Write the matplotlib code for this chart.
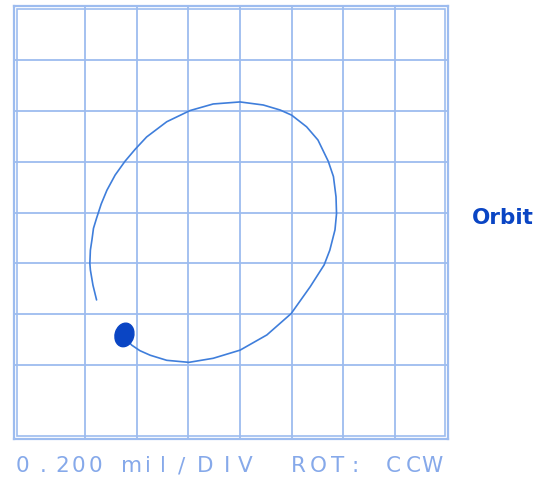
import matplotlib.pyplot as plt
from matplotlib.patches import Ellipse, Rectangle

# orbit trace, in screen divisions (0.200 mil per division)
orbit_x = [-2.78, -2.85, -2.90, -2.91, -2.90, -2.87, -2.84, -2.78, -2.69, -2.58,
           -2.42, -2.23, -2.03, -1.81, -1.42, -0.97, -0.52, 0.00, 0.45, 0.78,
           1.00, 1.29, 1.51, 1.71, 1.81, 1.86, 1.87, 1.84, 1.74, 1.63,
           1.36, 0.99, 0.52, 0.00, -0.52, -0.99, -1.42, -1.74, -1.94, -2.10, -2.18]
orbit_y = [-1.72, -1.43, -1.13, -1.00, -0.74, -0.54, -0.31, -0.11, 0.17, 0.44,
           0.74, 1.01, 1.25, 1.49, 1.79, 2.01, 2.14, 2.18, 2.12, 2.02,
           1.92, 1.69, 1.43, 1.01, 0.71, 0.31, -0.02, -0.34, -0.74, -1.03,
           -1.46, -1.99, -2.41, -2.71, -2.87, -2.95, -2.91, -2.81, -2.72, -2.61, -2.52]
keyphasor = (-2.24, -2.41)

grid_lines = [-3, -2, -1, 0, 1, 2, 3]
scale_text = "0.200 mil/DIV  ROT: CCW"
label = "Orbit"

grid_color = "#9dbcef"
trace_color = "#3f7edb"
dot_color = "#0a45c4"

fig = plt.figure(figsize=(5.39, 4.78), dpi=100)
ax = fig.add_axes([14 / 539, 1 - 439 / 478, 434 / 539, 433 / 478])

ax.set_xlim(-4.38, 4.03)
ax.set_ylim(-4.46, 4.07)
ax.set_xticks(grid_lines)
ax.set_yticks(grid_lines)
ax.tick_params(length=0, labelbottom=False, labelleft=False)
ax.grid(True, color=grid_color, linewidth=1.3)
ax.set_axisbelow(True)

for sp in ax.spines.values():
    sp.set_color(grid_color)
    sp.set_linewidth(1.6)
# second line of the double frame
ax.add_patch(Rectangle((0.008, 0.008), 0.984, 0.984, transform=ax.transAxes,
                       fill=False, edgecolor=grid_color, linewidth=1.2))

ax.plot(orbit_x, orbit_y, color=trace_color, linewidth=1.2,
        solid_capstyle="round", solid_joinstyle="round")
ax.add_patch(Ellipse(keyphasor, 0.36, 0.47, angle=-15, color=dot_color, zorder=5))

fig.text(503 / 539, 1 - 218 / 478, label, ha="center", va="center",
         fontsize=15.5, fontweight="bold", color=dot_color)

# plotter-style readout, characters placed one by one
char_x = [22, 43, 62, 78, 95, None, 132, 148, 163, 182, 205, 227, 245, None, None,
          298, 318, 338, 355, None, 393, 413, 432]
for ch, cx in zip(scale_text, char_x):
    if cx is None:
        continue
    fig.text(cx / 539, 1 - 466 / 478, ch, ha="center", va="center",
             fontsize=15.5, color="#86a9ea", family="DejaVu Sans")

fig.savefig("out.png", dpi=100)
